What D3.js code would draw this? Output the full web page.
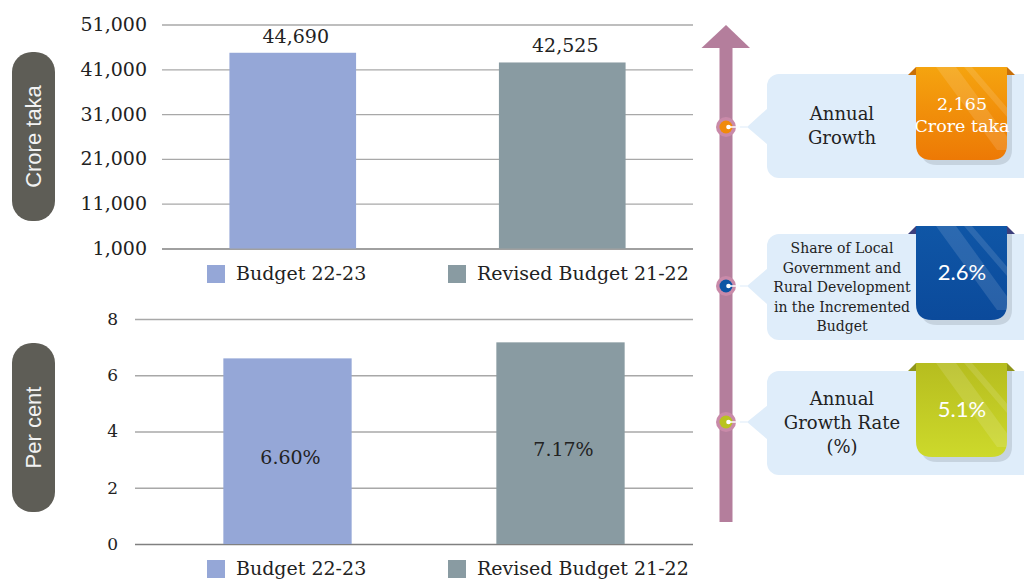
<!DOCTYPE html>
<html>
<head>
<meta charset="utf-8">
<script src="https://cdn.jsdelivr.net/npm/d3@7"></script>
<style>
  html, body { margin: 0; padding: 0; background: #ffffff; }
  svg { display: block; }
</style>
</head>
<body>
<svg id="chart" width="1024" height="581"></svg>
<script>
// ---------- data ----------
const categories = ["Budget 22-23", "Revised Budget 21-22"];
const amountValues = [44690, 42525];          // crore taka
const amountTicks = [1000, 11000, 21000, 31000, 41000, 51000];
const rateValues = [6.60, 7.17];              // per cent
const rateTicks = [0, 2, 4, 6, 8];
const axisTitles = ["Crore taka", "Per cent"];
const highlightLabels = [
  ["Annual", "Growth"],
  ["Share of Local", "Government and", "Rural Development", "in the Incremented", "Budget"],
  ["Annual", "Growth Rate", "(%)"]
];
const highlightValues = [["2,165", "Crore taka"], ["2.6%"], ["5.1%"]];

// ---------- styles ----------
const barColors = ["#95a7d7", "#899ba2"];
const serif = "'DejaVu Serif', serif";
const sans = "'Liberation Sans', Arial, sans-serif";
const textColor = "#222222";
const gridColor = "#a8a8a8";

const svg = d3.select("#chart");
const defs = svg.append("defs");

// ---------- generic bar panel ----------
function panel(opts) {
  const g = svg.append("g");
  const y = d3.scaleLinear().domain(opts.domain).range(opts.yRange);
  const x = d3.scaleBand().domain(categories).range(opts.xRange)
    .paddingInner(0.53).paddingOuter(0.265);

  const axis = d3.axisLeft(y).tickValues(opts.ticks).tickFormat(opts.fmt)
    .tickSize(-(opts.gridRange[1] - opts.gridRange[0])).tickPadding(opts.pad);
  const ag = g.append("g").attr("transform", `translate(${opts.gridRange[0]},0)`).call(axis);
  ag.select(".domain").remove();
  ag.selectAll(".tick line").attr("stroke", gridColor).attr("stroke-width", 1.3)
    .filter(d => d === opts.domain[0]).attr("stroke", "#808080");
  ag.selectAll(".tick text").attr("font-family", serif).attr("font-size", opts.tickFont)
    .attr("fill", textColor);

  g.selectAll("rect.bar").data(opts.values).enter().append("rect")
    .attr("class", "bar")
    .attr("x", (d, i) => x(categories[i]))
    .attr("width", x.bandwidth())
    .attr("y", d => y(d))
    .attr("height", d => y(opts.domain[0]) - y(d))
    .attr("fill", (d, i) => barColors[i]);

  g.selectAll("text.val").data(opts.values).enter().append("text")
    .attr("class", "val")
    .attr("x", (d, i) => x(categories[i]) + x.bandwidth() / 2 + 3)
    .attr("y", d => opts.inside ? (y(d) + y(opts.domain[0])) / 2 + 13 : y(d) - 10)
    .attr("text-anchor", "middle")
    .attr("font-family", serif).attr("font-size", 19).attr("fill", textColor)
    .text(opts.labelFmt);

  // legend
  const lg = g.append("g");
  const legX = [207, 448];
  categories.forEach((c, i) => {
    lg.append("rect").attr("x", legX[i]).attr("y", opts.legendY - 15)
      .attr("width", 18).attr("height", 18).attr("fill", barColors[i]);
    lg.append("text").attr("x", legX[i] + 29).attr("y", opts.legendY)
      .attr("font-family", serif).attr("font-size", 19).attr("fill", textColor).text(c);
  });

  // pill title
  const pill = g.append("g");
  pill.append("rect").attr("x", 12).attr("y", opts.pill[0]).attr("width", 43)
    .attr("height", opts.pill[1] - opts.pill[0]).attr("rx", 20).attr("fill", "#5e5d56");
  pill.append("text")
    .attr("transform", `translate(41,${(opts.pill[0] + opts.pill[1]) / 2}) rotate(-90)`)
    .attr("text-anchor", "middle").attr("font-family", sans).attr("font-size", 22)
    .attr("fill", "#f2f2f2").text(opts.title);
}

panel({
  values: amountValues, domain: [1000, 51000], ticks: amountTicks,
  yRange: [248.5, 24.5], xRange: [158, 697], gridRange: [162, 693], pad: 15,
  fmt: d3.format(","), tickFont: 19, labelFmt: d => d3.format(",")(d),
  inside: false, legendY: 280, pill: [52, 221], title: axisTitles[0]
});
panel({
  values: rateValues, domain: [0, 8], ticks: rateTicks,
  yRange: [544, 319], xRange: [151, 697], gridRange: [135, 693], pad: 17,
  fmt: d3.format("d"), tickFont: 17, labelFmt: d => d3.format(".2f")(d) + "%",
  inside: true, legendY: 575, pill: [343, 512], title: axisTitles[1]
});

// ---------- arrow ----------
const arrowColor = "#b47e9c";
svg.append("rect").attr("x", 719.5).attr("y", 46).attr("width", 13).attr("height", 476)
  .attr("fill", arrowColor);
svg.append("polygon").attr("points", "701.5,48 726,25 750,48").attr("fill", arrowColor);

// ---------- callouts ----------
const callouts = [
  { my: 127, box: [74, 178], tip: [108, 145], badge: [67, 160],
    c: ["#f5a40f", "#ed7905"], fold: "#c86f08", dot: "#f08a0c" },
  { my: 286, box: [234, 340], tip: [268, 305], badge: [226, 320],
    c: ["#0f56a6", "#0b4a9b"], fold: "#3c3f7c", dot: "#0d55a5" },
  { my: 422, box: [371, 475], tip: [405, 440], badge: [363, 457],
    c: ["#b6bd1f", "#cdd92b"], fold: "#8f951a", dot: "#b9c31f" }
];

callouts.forEach((co, i) => {
  const g = svg.append("g");
  // box with pointer
  g.append("rect").attr("x", 767).attr("y", co.box[0]).attr("width", 280)
    .attr("height", co.box[1] - co.box[0]).attr("rx", 12).attr("fill", "#dfedfa");
  g.append("polygon")
    .attr("points", `768,${co.tip[0]} 747,${co.my} 768,${co.tip[1]}`).attr("fill", "#dfedfa");
  // connector & marker
  g.append("line").attr("x1", 728).attr("x2", 748).attr("y1", co.my).attr("y2", co.my)
    .attr("stroke", "#eef5fc").attr("stroke-width", 2);
  g.append("circle").attr("cx", 726).attr("cy", co.my).attr("r", 10).attr("fill", "#c98aa9");
  g.append("circle").attr("cx", 726).attr("cy", co.my).attr("r", 6.5).attr("fill", co.dot);
  g.append("circle").attr("cx", 728.5).attr("cy", co.my).attr("r", 2.3).attr("fill", "#ffffff");
  g.append("line").attr("x1", 728).attr("x2", 740).attr("y1", co.my).attr("y2", co.my)
    .attr("stroke", "#ffffff").attr("stroke-width", 1.5);

  // label text
  const lines = highlightLabels[i];
  const small = lines.length > 3;
  const fs = small ? 14 : 18;
  const lh = small ? 19.5 : 24;
  const cy = (co.box[0] + co.box[1]) / 2;
  const t = g.append("text").attr("text-anchor", "middle")
    .attr("font-family", serif).attr("font-size", fs).attr("fill", textColor);
  lines.forEach((l, k) => {
    t.append("tspan").attr("x", 842)
      .attr("y", cy + (k - (lines.length - 1) / 2) * lh + fs * 0.36).text(l);
  });

  // badge
  const [bt, bb] = co.badge;
  const L = 916, R = 1007, r = 16;
  const badgePath = `M${L},${bt} H${R} V${bb - r} Q${R},${bb} ${R - r},${bb} H${L + r} Q${L},${bb} ${L},${bb - r} Z`;
  g.append("path").attr("d", badgePath).attr("transform", "translate(5,5)").attr("fill", "#c6d3df");
  g.append("polygon").attr("points", `908,${bt + 8} ${L},${bt} ${L},${bt + 8}`).attr("fill", co.fold);
  g.append("polygon").attr("points", `${R},${bt} 1015,${bt + 8} ${R},${bt + 8}`).attr("fill", co.fold);
  const gid = "grad" + i;
  const lgd = defs.append("linearGradient").attr("id", gid)
    .attr("x1", 0).attr("y1", 0).attr("x2", 0).attr("y2", 1);
  lgd.append("stop").attr("offset", "0%").attr("stop-color", co.c[0]);
  lgd.append("stop").attr("offset", "100%").attr("stop-color", co.c[1]);
  defs.append("clipPath").attr("id", "clip" + i).append("path").attr("d", badgePath);
  g.append("path").attr("d", badgePath).attr("fill", `url(#${gid})`);
  const sg = g.append("g").attr("clip-path", `url(#clip${i})`);
  sg.append("polygon")
    .attr("points", `${L + 20},${bt} ${L + 40},${bt} ${R + 10},${bb - 10} ${R - 10},${bb - 10}`)
    .attr("fill", "#ffffff").attr("opacity", 0.12);
  sg.append("polygon")
    .attr("points", `${L + 48},${bt} ${L + 56},${bt} ${R + 20},${bt + 64} ${R + 12},${bt + 64}`)
    .attr("fill", "#ffffff").attr("opacity", 0.12);

  const vals = highlightValues[i];
  const bcy = (bt + bb) / 2;
  const vt = g.append("text").attr("text-anchor", "middle").attr("fill", "#ffffff");
  if (vals.length > 1) {
    vt.attr("font-family", serif).attr("font-size", 17.5);
    vals.forEach((v, k) => {
      vt.append("tspan").attr("x", 962).attr("y", bcy + 7 + (k - 0.5) * 22).text(v);
    });
  } else {
    vt.attr("font-family", "Lato, 'Open Sans', sans-serif").attr("font-size", 22)
      .attr("x", 962).attr("y", bcy + 7).text(vals[0]);
  }
});
</script>
</body>
</html>
